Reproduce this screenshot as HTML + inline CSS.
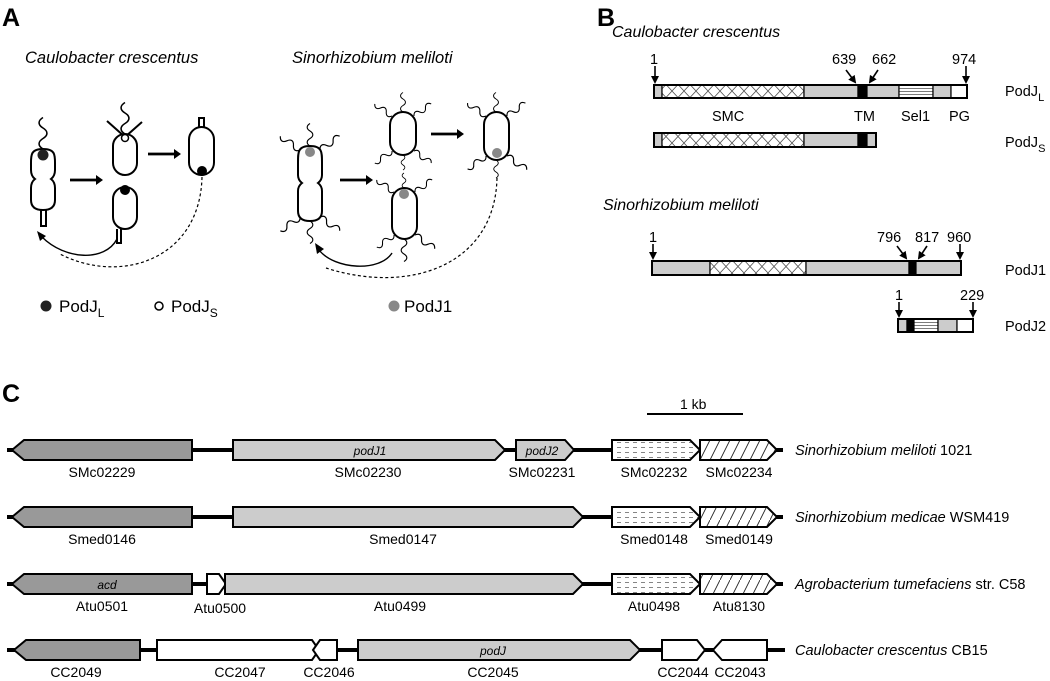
<!DOCTYPE html>
<html><head><meta charset="utf-8"><style>
html,body{margin:0;padding:0;background:#fff}
svg{display:block;font-family:"Liberation Sans",Arial,sans-serif}
</style></head><body>
<svg width="1050" height="681" viewBox="0 0 1050 681" xmlns="http://www.w3.org/2000/svg" xmlns:xlink="http://www.w3.org/1999/xlink">
<defs>
<pattern id="xh" width="12" height="13" patternUnits="userSpaceOnUse">
<rect width="12" height="13" fill="#fff"/>
<path d="M0,0L12,13M12,0L0,13" stroke="#555" stroke-width="0.8"/></pattern>
<pattern id="hl" width="4" height="3" patternUnits="userSpaceOnUse">
<rect width="4" height="3" fill="#fff"/><path d="M0,1.5H4" stroke="#444" stroke-width="0.7"/></pattern>
<pattern id="dl" width="8" height="5" patternUnits="userSpaceOnUse">
<rect width="8" height="5" fill="#fff"/><path d="M1,2.5H5" stroke="#666" stroke-width="0.8"/></pattern>
<pattern id="dg" width="10" height="20" patternUnits="userSpaceOnUse">
<rect width="10" height="20" fill="#fff"/><path d="M0,20L10,0" stroke="#222" stroke-width="0.9"/></pattern>
<marker id="ah" markerWidth="8" markerHeight="8" refX="6" refY="4" orient="auto" markerUnits="userSpaceOnUse"><path d="M0,0L8,4L0,8z" fill="#000"/></marker>
<path id="fl" d="M0,0 c-5,-3 -5,-7 0,-10 c5,-3 5,-7 0,-10 c-5,-3 -5,-7 0,-10" fill="none" stroke="#000" stroke-width="1.5"/>
</defs>

<text x="2" y="26" font-size="25" font-weight="bold">A</text>
<text x="597" y="26" font-size="25" font-weight="bold">B</text>
<text x="2" y="402" font-size="25" font-weight="bold">C</text>

<!-- Panel A -->
<text x="25" y="63" font-size="16.5" font-style="italic">Caulobacter crescentus</text>
<text x="292" y="63" font-size="16.5" font-style="italic">Sinorhizobium meliloti</text>
<g fill="none" stroke="#000" stroke-width="2">
 <path d="M43,149 C30,149 31,156 31,165 L31,170 Q31,176 35,179 Q31,182 31,188 L31,200 Q31,210 43,210 Q55,210 55,200 L55,188 Q55,182 51,179 Q55,176 55,170 L55,165 C55,156 56,149 43,149Z"/>
 <path d="M41,210V226H46V210"/>
 <use xlink:href="#fl" transform="translate(43,149) scale(1.05)"/>
 <rect x="113" y="134" width="24" height="41" rx="12"/>
 <use xlink:href="#fl" transform="translate(125,134) scale(1.05)"/>
 <path d="M125,137L107,121M125,137L142,122"/>
 <rect x="113" y="187" width="24" height="42" rx="12"/>
 <path d="M117,229V243H121V229"/>
 <rect x="189" y="127" width="25" height="48" rx="12.5"/>
 <path d="M199,127V118H204V127"/>
 <path d="M70,180H96M148,154H174" stroke-width="2.7"/>
 <path d="M96,175L103,180L96,185z M174,149L181,154L174,159z" fill="#000" stroke="none"/>
 <path d="M117,239 C105,262 65,260 42,237" stroke-width="1.4"/>
 <path d="M37,231L46,236L40,241z" fill="#000" stroke="none"/>
 <path d="M202,177 C200,260 120,285 60,254" stroke-width="1.2" stroke-dasharray="3,2.5"/>

 <path d="M310,146 C298,146 298,152 298,162 L298,175 Q298,180 302,183 Q298,186 298,191 L298,211 Q298,221 310,221 Q322,221 322,211 L322,191 Q322,186 318,183 Q322,180 322,175 L322,162 C322,152 322,146 310,146Z"/>
 <rect x="390" y="112" width="26" height="43" rx="13"/>
 <rect x="392" y="188" width="25" height="51" rx="12.5"/>
 <rect x="484" y="112" width="25" height="48" rx="12.5"/>
 <path d="M340,180H366M431,134H457" stroke-width="2.7"/>
 <path d="M366,175L373,180L366,185z M457,129L464,134L457,139z" fill="#000" stroke="none"/>
 <path d="M392,253 C380,272 335,270 319,250" stroke-width="1.4"/>
 <path d="M315,243L324,249L317,254z" fill="#000" stroke="none"/>
 <path d="M497,178 C495,265 410,295 326,268" stroke-width="1.2" stroke-dasharray="3,2.5"/>
</g>
<g>
 <use xlink:href="#fl" transform="translate(310,146) scale(0.75)"/>
 <use xlink:href="#fl" transform="translate(300,150) rotate(-55) scale(0.8)"/>
 <use xlink:href="#fl" transform="translate(320,150) rotate(55) scale(0.8)"/>
 <use xlink:href="#fl" transform="translate(300,217) rotate(-125) scale(0.8)"/>
 <use xlink:href="#fl" transform="translate(320,217) rotate(125) scale(0.8)"/>
 <use xlink:href="#fl" transform="translate(310,221) rotate(180) scale(0.75)"/>
 <use xlink:href="#fl" transform="translate(403,112) scale(0.65)"/>
 <use xlink:href="#fl" transform="translate(392,116) rotate(-55) scale(0.7)"/>
 <use xlink:href="#fl" transform="translate(414,116) rotate(55) scale(0.7)"/>
 <use xlink:href="#fl" transform="translate(392,151) rotate(-125) scale(0.7)"/>
 <use xlink:href="#fl" transform="translate(414,151) rotate(125) scale(0.7)"/>
 <use xlink:href="#fl" transform="translate(403,155) rotate(180) scale(0.5)"/>
 <use xlink:href="#fl" transform="translate(404,188) scale(0.5)"/>
 <use xlink:href="#fl" transform="translate(394,192) rotate(-55) scale(0.7)"/>
 <use xlink:href="#fl" transform="translate(415,192) rotate(55) scale(0.7)"/>
 <use xlink:href="#fl" transform="translate(394,235) rotate(-125) scale(0.7)"/>
 <use xlink:href="#fl" transform="translate(415,235) rotate(125) scale(0.8)"/>
 <use xlink:href="#fl" transform="translate(404,239) rotate(180) scale(0.75)"/>
 <use xlink:href="#fl" transform="translate(496,112) scale(0.65)"/>
 <use xlink:href="#fl" transform="translate(486,116) rotate(-55) scale(0.75)"/>
 <use xlink:href="#fl" transform="translate(507,116) rotate(55) scale(0.75)"/>
 <use xlink:href="#fl" transform="translate(486,156) rotate(-125) scale(0.75)"/>
 <use xlink:href="#fl" transform="translate(507,156) rotate(125) scale(0.8)"/>
 <use xlink:href="#fl" transform="translate(496,160) rotate(180) scale(0.6)"/>
</g>
<circle cx="43" cy="155" r="5.5" fill="#222"/>
<circle cx="125" cy="138" r="3.5" fill="#fff" stroke="#000" stroke-width="1.5"/>
<circle cx="125" cy="190" r="5" fill="#000"/>
<circle cx="202" cy="171" r="5" fill="#000"/>
<circle cx="310" cy="152" r="5" fill="#888"/>
<circle cx="404" cy="194" r="5" fill="#888"/>
<circle cx="497" cy="153" r="5" fill="#888"/>

<circle cx="46" cy="306" r="5.5" fill="#222"/>
<text x="59" y="312" font-size="17">PodJ<tspan font-size="12" dy="5">L</tspan></text>
<circle cx="159" cy="306" r="4" fill="#fff" stroke="#000" stroke-width="1.5"/>
<text x="171" y="312" font-size="17">PodJ<tspan font-size="12" dy="5">S</tspan></text>
<circle cx="394" cy="306" r="5.5" fill="#888"/>
<text x="404" y="312" font-size="17">PodJ1</text>

<!-- Panel B -->
<text x="612" y="37" font-size="16" font-style="italic">Caulobacter crescentus</text>
<g stroke="#000" stroke-width="1.2">
 <rect x="654" y="85" width="8" height="13" fill="#ccc"/>
 <rect x="662" y="85" width="142" height="13" fill="url(#xh)"/>
 <rect x="804" y="85" width="54" height="13" fill="#ccc"/>
 <rect x="858" y="85" width="9" height="13" fill="#000"/>
 <rect x="867" y="85" width="32" height="13" fill="#ccc"/>
 <rect x="899" y="85" width="34" height="13" fill="url(#hl)"/>
 <rect x="933" y="85" width="18" height="13" fill="#ccc"/>
 <rect x="951" y="85" width="16" height="13" fill="#fff"/>
 <rect x="654" y="85" width="313" height="13" fill="none" stroke-width="2"/>
 <rect x="654" y="133" width="8" height="14" fill="#ccc"/>
 <rect x="662" y="133" width="142" height="14" fill="url(#xh)"/>
 <rect x="804" y="133" width="54" height="14" fill="#ccc"/>
 <rect x="858" y="133" width="9" height="14" fill="#000"/>
 <rect x="867" y="133" width="9" height="14" fill="#ccc"/>
 <rect x="654" y="133" width="222" height="14" fill="none" stroke-width="2"/>
 <rect x="652" y="261" width="58" height="14" fill="#ccc"/>
 <rect x="710" y="261" width="96" height="14" fill="url(#xh)"/>
 <rect x="806" y="261" width="103" height="14" fill="#ccc"/>
 <rect x="909" y="261" width="7" height="14" fill="#000"/>
 <rect x="916" y="261" width="45" height="14" fill="#ccc"/>
 <rect x="652" y="261" width="309" height="14" fill="none" stroke-width="2"/>
 <rect x="898" y="319" width="9" height="13" fill="#ccc"/>
 <rect x="907" y="319" width="7" height="13" fill="#000"/>
 <rect x="914" y="319" width="24" height="13" fill="url(#hl)"/>
 <rect x="938" y="319" width="19" height="13" fill="#ccc"/>
 <rect x="957" y="319" width="16" height="13" fill="#fff"/>
 <rect x="898" y="319" width="75" height="13" fill="none" stroke-width="2"/>
</g>
<g stroke="#000" stroke-width="1.6" fill="none" marker-end="url(#ah)">
 <path d="M655,66V82"/><path d="M966,66V82"/>
 <path d="M846,70L855,82"/><path d="M878,70L870,82"/>
 <path d="M653,244V258"/><path d="M960,244V258"/>
 <path d="M897,246L906,258"/><path d="M927,246L919,258"/>
 <path d="M899,302V316"/><path d="M973,302V316"/>
</g>
<g font-size="14.5">
<text x="650" y="64">1</text><text x="832" y="64">639</text><text x="872" y="64">662</text><text x="952" y="64">974</text>
<text x="712" y="121">SMC</text><text x="854" y="121">TM</text><text x="901" y="121">Sel1</text><text x="949" y="121">PG</text>
<text x="649" y="242">1</text><text x="877" y="242">796</text><text x="915" y="242">817</text><text x="947" y="242">960</text>
<text x="895" y="300">1</text><text x="960" y="300">229</text>
<text x="1005" y="96">PodJ<tspan font-size="11" dy="5">L</tspan></text>
<text x="1005" y="147">PodJ<tspan font-size="11" dy="5">S</tspan></text>
<text x="1005" y="275">PodJ1</text>
<text x="1005" y="331">PodJ2</text>
</g>
<text x="603" y="210" font-size="16" font-style="italic">Sinorhizobium meliloti</text>

<!-- Panel C -->
<path d="M647,414H743" stroke="#000" stroke-width="2"/>
<text x="680" y="409" font-size="14">1 kb</text>
<g stroke="#000" stroke-width="4">
 <path d="M7,450H783"/><path d="M7,517H783"/><path d="M7,584H783"/><path d="M7,650H785"/>
</g>
<g stroke="#000" stroke-width="2">
 <polygon points="12,450 24,440 192,440 192,460 24,460" fill="#999"/>
 <polygon points="233,440 495,440 505,450 495,460 233,460" fill="#ccc"/>
 <polygon points="516,440 565,440 574,450 565,460 516,460" fill="#ccc"/>
 <polygon points="612,440 690,440 700,450 690,460 612,460" fill="url(#dl)"/>
 <polygon points="700,440 767,440 777,450 767,460 700,460" fill="url(#dg)"/>
 <polygon points="12,517 24,507 192,507 192,527 24,527" fill="#999"/>
 <polygon points="233,507 573,507 583,517 573,527 233,527" fill="#ccc"/>
 <polygon points="612,507 690,507 700,517 690,527 612,527" fill="url(#dl)"/>
 <polygon points="700,507 767,507 777,517 767,527 700,527" fill="url(#dg)"/>
 <polygon points="12,584 24,574 192,574 192,594 24,594" fill="#999"/>
 <polygon points="207,574 219,574 226,584 219,594 207,594" fill="#fff"/>
 <polygon points="225,574 573,574 583,584 573,594 225,594" fill="#ccc"/>
 <polygon points="612,574 690,574 700,584 690,594 612,594" fill="url(#dl)"/>
 <polygon points="700,574 767,574 777,584 767,594 700,594" fill="url(#dg)"/>
 <polygon points="14,650 26,640 140,640 140,660 26,660" fill="#999"/>
 <polygon points="157,640 312,640 319,650 312,660 157,660" fill="#fff"/>
 <polygon points="313,650 320,640 337,640 337,660 320,660" fill="#fff"/>
 <polygon points="358,640 630,640 640,650 630,660 358,660" fill="#ccc"/>
 <polygon points="662,640 697,640 705,650 697,660 662,660" fill="#fff"/>
 <polygon points="713,650 722,640 767,640 767,660 722,660" fill="#fff"/>
</g>
<g font-size="14" text-anchor="middle">
 <text x="102" y="477">SMc02229</text><text x="368" y="477">SMc02230</text><text x="542" y="477">SMc02231</text>
 <text x="654" y="477">SMc02232</text><text x="739" y="477">SMc02234</text>
 <text x="102" y="544">Smed0146</text><text x="403" y="544">Smed0147</text><text x="654" y="544">Smed0148</text><text x="739" y="544">Smed0149</text>
 <text x="102" y="611">Atu0501</text><text x="220" y="613">Atu0500</text><text x="400" y="611">Atu0499</text><text x="654" y="611">Atu0498</text><text x="739" y="611">Atu8130</text>
 <text x="76" y="677">CC2049</text><text x="240" y="677">CC2047</text><text x="329" y="677">CC2046</text><text x="493" y="677">CC2045</text><text x="683" y="677">CC2044</text><text x="740" y="677">CC2043</text>
 <g font-style="italic" font-size="12"><text x="370" y="455">podJ1</text><text x="542" y="455">podJ2</text><text x="107" y="589">acd</text><text x="493" y="655">podJ</text></g>
</g>
<g font-size="14.5">
 <text x="795" y="455"><tspan font-style="italic">Sinorhizobium meliloti</tspan> 1021</text>
 <text x="795" y="522"><tspan font-style="italic">Sinorhizobium medicae</tspan> WSM419</text>
 <text x="795" y="589"><tspan font-style="italic">Agrobacterium tumefaciens</tspan> str. C58</text>
 <text x="795" y="655"><tspan font-style="italic">Caulobacter crescentus</tspan> CB15</text>
</g>
</svg>
</body></html>
